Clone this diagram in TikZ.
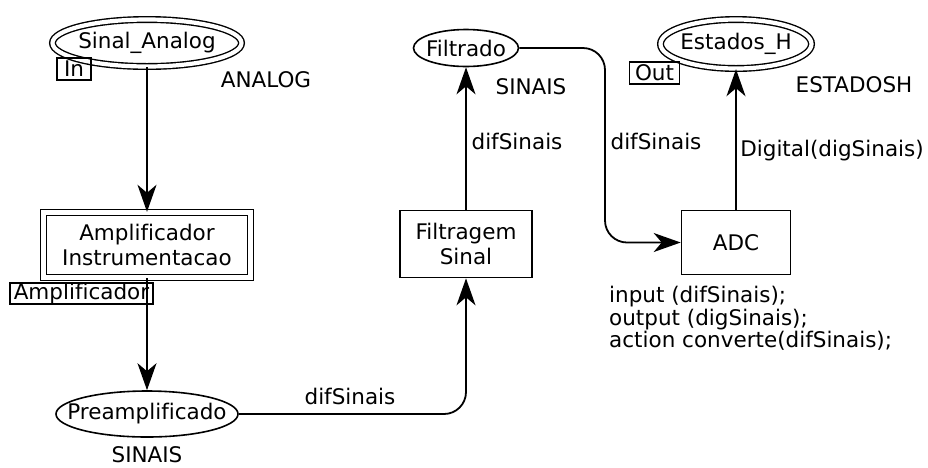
\documentclass[tikz,border=0pt]{standalone}
\usepackage{fontspec}
\setmainfont[Ligatures=NoCommon]{DejaVu Sans}
\usetikzlibrary{shapes.geometric,arrows.meta}
\newcommand{\zw}[1]{\makebox[0pt]{#1}}
\begin{document}
\begin{tikzpicture}[x=1pt,y=-1pt,
  every node/.style={font=\fontsize{21.5}{25}\selectfont},
  place/.style={ellipse,draw,line width=1.6pt,inner sep=0pt},
  dplace/.style={ellipse,draw,line width=1.4pt,double,double distance=4.2pt,inner sep=0pt},
  trans/.style={rectangle,draw,line width=1.6pt,inner sep=0pt,align=center},
  dtrans/.style={rectangle,draw,line width=1.4pt,double,double distance=4.8pt,inner sep=0pt,align=center},
  tag/.style={rectangle,draw,line width=1.4pt,inner sep=0pt},
  lbl/.style={inner sep=0pt},
  arc/.style={line width=1.8pt,-{Stealth[length=27pt,width=19pt,inset=8pt]}},
  arcr/.style={arc,rounded corners=22pt}
]
\useasboundingbox (0,0) rectangle (928,467);
% places
\node[dplace,minimum width=189pt,minimum height=47pt] (sa) at (147,43) {\zw{Sinal\_Analog}};
\node[tag,minimum width=34pt,minimum height=22pt] (tin) at (74,69) {\zw{In}};
\node[lbl] (tanalog) at (266,80) {ANALOG};

\node[place,minimum width=182pt,minimum height=46pt] (pre) at (147,414) {\zw{Preamplificado}};
\node[lbl] (tsin1) at (147,455) {SINAIS};

\node[place,minimum width=105pt,minimum height=37pt] (fil) at (466,48) {\zw{Filtrado}};
\node[lbl] (tsin2) at (531,87) {SINAIS};

\node[dplace,minimum width=151pt,minimum height=49pt] (est) at (736,44) {\zw{Estados\_H}};
\node[tag,minimum width=50pt,minimum height=22pt] (tout) at (654.5,73) {\zw{Out}};
\node[lbl] (testh) at (854,85) {ESTADOSH};

% transitions
\node[dtrans,minimum width=207pt,minimum height=65pt] (amp) at (147,245) {Amplificador\\Instrumentacao};
\node[tag,minimum width=143pt,minimum height=21pt] (tamp) at (81.5,293.5) {\zw{Amplificador}};

\node[trans,minimum width=132pt,minimum height=67pt] (filt) at (466,244) {Filtragem\\Sinal};
\node[trans,minimum width=109pt,minimum height=64pt] (adc) at (736,242.5) {ADC};
\node[lbl,anchor=north west,align=left,font=\fontsize{21.5}{22.5}\selectfont] (code) at (609,286) {input (difSinais);\\output (digSinais);\\action converte(difSinais);};

% arcs
\draw[arc] (sa.south) -- (amp.north);
\draw[arc] (amp.south) -- (pre.north);
\draw[arcr] (pre.east) -| (filt.south);
\node[lbl] (l1) at (350,396) {difSinais};
\draw[arc] (filt.north) -- (fil.south);
\node[lbl] (l2) at (517,141) {difSinais};
\coordinate (c1) at (605,48);
\draw[arcr] (fil.east) -- (c1) |- (adc.west);
\node[lbl] (l3) at (656,141) {difSinais};
\draw[arc] (adc.north) -- (est.south);
\node[lbl] (l4) at (832,151) {Digital(digSinais)};
\end{tikzpicture}
\end{document}
